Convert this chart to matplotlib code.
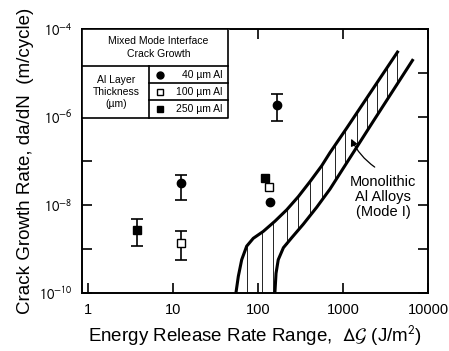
import numpy as np
import matplotlib
matplotlib.use("Agg")
import matplotlib.pyplot as plt

plt.rcParams['font.family'] = ['Liberation Sans', 'DejaVu Sans']
plt.rcParams['mathtext.fontset'] = 'stixsans'

# data points: (dG, da/dN, err_low, err_high)
al40_x = [12.4, 167, 138]
al40_y = [3.2e-8, 1.9e-6, 1.15e-8]
al40_lo = [1.3e-8, 8.1e-7, None]
al40_hi = [4.9e-8, 3.4e-6, None]

al100_x = [12.4, 135]
al100_y = [1.4e-9, 2.5e-8]
al100_lo = [5.7e-10, None]
al100_hi = [2.5e-9, None]

al250_x = [3.8, 121]
al250_y = [2.66e-9, 4.1e-8]
al250_lo = [1.14e-9, None]
al250_hi = [4.8e-9, None]

# scatter band of monolithic Al alloys (mode I)
upper_x = [55, 58.7, 64.3, 73.6, 88, 115, 158, 218, 298, 409, 562, 703, 1106, 4480]
upper_y = [1e-10, 2.4e-10, 5.7e-10, 1.16e-9, 1.75e-9, 2.5e-9, 4.27e-9, 7.8e-9,
           1.55e-8, 3.4e-8, 7.8e-8, 1.55e-7, 5.6e-7, 3.2e-5]
lower_x = [158, 163, 173, 199, 249, 341, 491, 703, 2270, 6714]
lower_y = [1e-10, 2.8e-10, 5.7e-10, 1.07e-9, 1.8e-9, 3.66e-9, 8.9e-9, 2.3e-8, 8e-7, 2.07e-5]
hatch_x = [73.6, 110, 151, 218, 298, 409, 562, 805, 1057, 1448, 1902, 2513, 3264, 4270]

fig = plt.figure(figsize=(4.49, 3.51), dpi=100)
ax = fig.add_axes([82/449, 58/351, 346/449, 264/351])
ax.set_xscale('log')
ax.set_yscale('log')
ax.set_xlim(0.85, 10000)
ax.set_ylim(1e-10, 1e-4)


def errpoints(xs, ys, lo, hi, marker, face):
    for x, y, l, h in zip(xs, ys, lo, hi):
        if l is not None:
            ax.errorbar([x], [y], yerr=[[y - l], [h - y]], fmt='none', ecolor='black',
                        elinewidth=1.2, capsize=4.5, capthick=1.2, zorder=3)
    ax.plot(xs, ys, linestyle='none', marker=marker, mfc=face, mec='black',
            mew=1.0, ms=6 if marker == 'o' else 5.5, zorder=4)


errpoints(al40_x, al40_y, al40_lo, al40_hi, 'o', 'black')
errpoints(al100_x, al100_y, al100_lo, al100_hi, 's', 'white')
errpoints(al250_x, al250_y, al250_lo, al250_hi, 's', 'black')

# band boundaries
ax.plot(upper_x, upper_y, color='black', lw=2.2, solid_capstyle='butt', solid_joinstyle='round')
ax.plot(lower_x, lower_y, color='black', lw=2.2, solid_capstyle='butt', solid_joinstyle='round')

# vertical hatching between the boundaries
lux, luy = np.log10(upper_x), np.log10(upper_y)
llx, lly = np.log10(lower_x), np.log10(lower_y)
for hx in hatch_x:
    top = 10 ** np.interp(np.log10(hx), lux, luy)
    if hx < lower_x[0]:
        bot = 1e-10
    else:
        bot = 10 ** np.interp(np.log10(hx), llx, lly)
    ax.plot([hx, hx], [bot, top], color='black', lw=0.6)

ax.text(2950, 1.53e-8, 'Monolithic\nAl Alloys\n(Mode I)', ha='center', va='center',
        fontsize=10.5, linespacing=1.1)
ax.annotate('', xy=(1208, 3.65e-7), xytext=(2512, 6.7e-8),
            arrowprops=dict(arrowstyle='-|>', color='black', lw=0.9,
                            connectionstyle='arc3,rad=-0.15', mutation_scale=10))

# ticks
ax.set_xticks([1, 10, 100, 1000, 10000])
ax.set_xticklabels(['1', '10', '100', '1000', '10000'])
ax.set_yticks([1e-10, 1e-9, 1e-8, 1e-7, 1e-6, 1e-5, 1e-4])
ax.set_yticklabels([r'$10^{-10}$', '', r'$10^{-8}$', '', r'$10^{-6}$', '', r'$10^{-4}$'])
ax.minorticks_off()
ax.tick_params(direction='in', length=7, width=1.2, top=True, right=True,
               labelsize=10.5, pad=7)
for s in ax.spines.values():
    s.set_linewidth(1.4)

ax.set_xlabel(r'Energy Release Rate Range,  $\Delta\mathcal{G}$ (J/m$^2$)', fontsize=13.5, labelpad=5)
ax.set_ylabel('Crack Growth Rate, da/dN  (m/cycle)', fontsize=13.5, labelpad=3)

# legend table in the top-left corner
T = ax.transAxes
bx, by = 0.422, 0.663
ysep, xdiv = 0.860, 0.194
rows = [0.795, 0.731]
lk = dict(color='black', lw=1.2, transform=T, clip_on=False)
ax.fill([0, bx, bx, 0], [by, by, 1, 1], color='white', transform=T, zorder=5)
ax.plot([0, bx, bx, 0, 0], [by, by, 1, 1, by], zorder=6, **lk)
ax.plot([0, bx], [ysep, ysep], zorder=6, **lk)
ax.plot([xdiv, xdiv], [by, ysep], zorder=6, **lk)
for r in rows:
    ax.plot([xdiv, bx], [r, r], zorder=6, **lk)
ax.text(bx / 2 + 0.01, (1 + ysep) / 2, 'Mixed Mode Interface\nCrack Growth', transform=T,
        ha='center', va='center', fontsize=7.5, linespacing=1.3, zorder=7)
ax.text(xdiv / 2 + 0.003, (by + ysep) / 2, 'Al Layer\nThickness\n(µm)', transform=T,
        ha='center', va='center', fontsize=7.5, linespacing=1.3, zorder=7)
leg_labels = ['40 µm Al', '100 µm Al', '250 µm Al']
leg_marks = [('o', 'black'), ('s', 'white'), ('s', 'black')]
bounds = [ysep] + rows + [by]
for i, (lab, (m, f)) in enumerate(zip(leg_labels, leg_marks)):
    yc = (bounds[i] + bounds[i + 1]) / 2
    ax.plot([xdiv + 0.03], [yc], marker=m, mfc=f, mec='black', ms=5 if m == 'o' else 4.5,
            transform=T, clip_on=False, zorder=7)
    ax.text(bx - 0.015, yc, lab, transform=T, ha='right', va='center', fontsize=7.5, zorder=7)

fig.savefig('out.png', dpi=100)
